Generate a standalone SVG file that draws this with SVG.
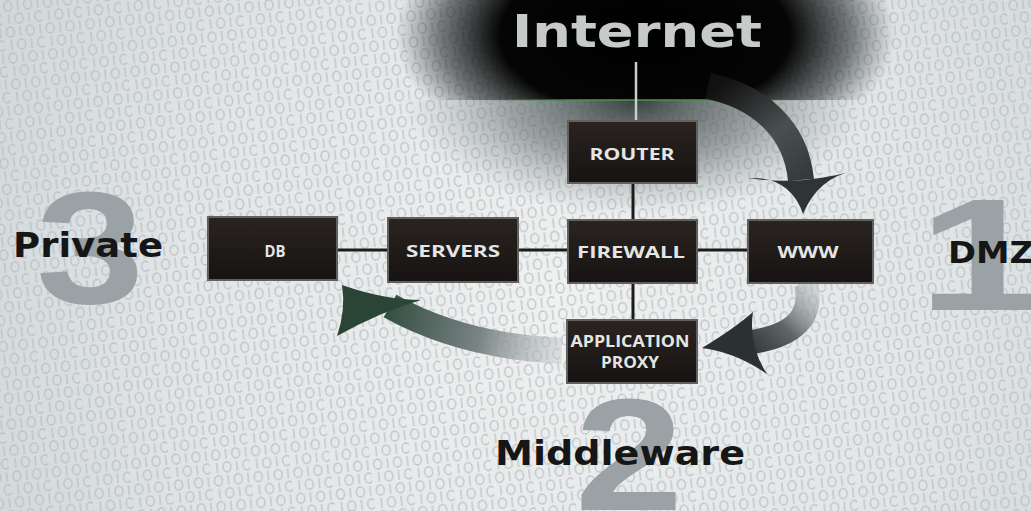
<svg xmlns="http://www.w3.org/2000/svg" width="1031" height="511" viewBox="0 0 1031 511">
  <defs>
    <radialGradient id="bg" cx="560" cy="300" r="620" gradientUnits="userSpaceOnUse">
      <stop offset="0" stop-color="#f0f1f1"/>
      <stop offset="0.6" stop-color="#e2e6e7"/>
      <stop offset="1" stop-color="#d2d7da"/>
    </radialGradient>
    <pattern id="bits" width="40" height="26" patternUnits="userSpaceOnUse" patternTransform="rotate(-6)">
      <g fill="none" stroke="#b4bbbf" stroke-width="1.4" opacity="0.8">
        <ellipse cx="7" cy="7" rx="4" ry="5"/>
        <line x1="17" y1="2" x2="17" y2="12"/>
        <ellipse cx="27" cy="7" rx="4" ry="5"/>
        <line x1="37" y1="2" x2="37" y2="12"/>
        <line x1="7" y1="15" x2="7" y2="25"/>
        <ellipse cx="17" cy="20" rx="4" ry="5"/>
        <line x1="27" y1="15" x2="27" y2="25"/>
        <ellipse cx="37" cy="20" rx="4" ry="5"/>
      </g>
    </pattern>
    <radialGradient id="glowTop" cx="645" cy="35" r="250" gradientUnits="userSpaceOnUse" gradientTransform="translate(645 35) scale(1 0.55) translate(-645 -35)">
      <stop offset="0" stop-color="#000" stop-opacity="1"/>
      <stop offset="0.58" stop-color="#050505" stop-opacity="1"/>
      <stop offset="0.82" stop-color="#1a1f20" stop-opacity="0.55"/>
      <stop offset="1" stop-color="#2a3030" stop-opacity="0"/>
    </radialGradient>
    <radialGradient id="glowLow" cx="635" cy="100" r="230" gradientUnits="userSpaceOnUse" gradientTransform="translate(635 100) scale(1 0.5) translate(-635 -100)">
      <stop offset="0" stop-color="#303838" stop-opacity="0.95"/>
      <stop offset="0.55" stop-color="#5e6869" stop-opacity="0.55"/>
      <stop offset="1" stop-color="#8a9496" stop-opacity="0"/>
    </radialGradient>
    <linearGradient id="greenLine" x1="470" y1="0" x2="820" y2="0" gradientUnits="userSpaceOnUse">
      <stop offset="0" stop-color="#4f7a4f" stop-opacity="0"/>
      <stop offset="0.3" stop-color="#4f8a4f" stop-opacity="0.8"/>
      <stop offset="0.7" stop-color="#4f8a4f" stop-opacity="0.8"/>
      <stop offset="1" stop-color="#4f7a4f" stop-opacity="0"/>
    </linearGradient>
    <clipPath id="topClip"><rect x="0" y="0" width="1031" height="100"/></clipPath>
    <clipPath id="lowClip"><rect x="0" y="100" width="1031" height="140"/></clipPath>
    <linearGradient id="a1" x1="715" y1="90" x2="805" y2="200" gradientUnits="userSpaceOnUse">
      <stop offset="0" stop-color="#111"/>
      <stop offset="0.5" stop-color="#4a5050"/>
      <stop offset="1" stop-color="#2e3333"/>
    </linearGradient>
    <linearGradient id="a2" x1="808" y1="282" x2="740" y2="350" gradientUnits="userSpaceOnUse">
      <stop offset="0" stop-color="#b6bebe" stop-opacity="0.5"/>
      <stop offset="0.5" stop-color="#5e6666"/>
      <stop offset="1" stop-color="#2b3030"/>
    </linearGradient>
    <linearGradient id="a3" x1="565" y1="350" x2="380" y2="305" gradientUnits="userSpaceOnUse">
      <stop offset="0" stop-color="#c2c9c9" stop-opacity="0.4"/>
      <stop offset="0.45" stop-color="#7a8484"/>
      <stop offset="1" stop-color="#2e4a3c"/>
    </linearGradient>
    <linearGradient id="boxFill" x1="0" y1="0" x2="0" y2="1">
      <stop offset="0" stop-color="#2a2421"/>
      <stop offset="1" stop-color="#161312"/>
    </linearGradient>
  </defs>
  <style>
    .box { fill: url(#boxFill); stroke: #625f5c; stroke-width: 2; }
    .btxt { font-family: "Open Sans", "DejaVu Sans", sans-serif; font-weight: 700; font-size: 16px; fill: #e4e6e4; text-anchor: middle; }
    .zone { font-family: "DejaVu Sans", "Liberation Sans", sans-serif; font-weight: 700; fill: #161616; }
    .digit { font-family: "Liberation Sans", Arial, sans-serif; font-weight: 700; font-size: 160px; fill: #9ba2a5; text-anchor: middle; }
    .link { stroke: #1e1c1b; stroke-width: 3; fill: none; }
  </style>

  <!-- background -->
  <rect width="1031" height="511" fill="url(#bg)"/>
  <rect width="1031" height="511" fill="url(#bits)"/>

  <!-- Internet glow -->
  <g id="internet-glow">
    <rect x="380" y="100" width="520" height="140" fill="url(#glowLow)" clip-path="url(#lowClip)"/>
    <rect x="360" y="0" width="570" height="100" fill="url(#glowTop)" clip-path="url(#topClip)"/>
    <line x1="470" y1="100" x2="820" y2="100" stroke="url(#greenLine)" stroke-width="2"/>
  </g>

  <!-- zone digits and labels -->
  <g id="zone-private">
    <text class="digit" transform="translate(90 303) scale(1.22 1)">3</text>
    <text class="zone" x="13" y="257" font-size="33" textLength="150" lengthAdjust="spacingAndGlyphs">Private</text>
  </g>
  <g id="zone-dmz">
    <text class="digit" transform="translate(982 310) scale(1.45 1)">1</text>
    <text class="zone" x="948" y="263" font-size="30" textLength="86" lengthAdjust="spacingAndGlyphs">DMZ</text>
  </g>
  <g id="zone-middleware">
    <text class="digit" transform="translate(629 510) scale(1.22 1)">2</text>
    <text class="zone" x="495" y="465" font-size="34" textLength="250" lengthAdjust="spacingAndGlyphs">Middleware</text>
  </g>

  <g id="internet">
    <text x="512" y="47" font-family="DejaVu Sans, Liberation Sans, sans-serif" font-weight="700" font-size="44" fill="#c6cbc7" textLength="250" lengthAdjust="spacingAndGlyphs">Internet</text>
  </g>

  <!-- connectors -->
  <g id="connectors">
    <line x1="636" y1="62" x2="636" y2="121" stroke="#c9cdcb" stroke-width="2.5"/>
    <line class="link" x1="633" y1="183" x2="633" y2="220"/>
    <line class="link" x1="633" y1="283" x2="633" y2="320"/>
    <line class="link" x1="337" y1="250" x2="388" y2="250"/>
    <line class="link" x1="518" y1="250" x2="568" y2="250"/>
    <line class="link" x1="697" y1="250" x2="748" y2="250"/>

    <!-- arrow Internet -> WWW -->
    <path d="M708 86 C758 96 796 128 801 180" stroke="url(#a1)" stroke-width="26" fill="none"/>
    <path d="M748 178 Q790 176 803 214 Q818 178 853 171 Q800 186 748 178 Z" fill="#2f3434"/>
    <!-- arrow WWW -> Application proxy -->
    <path d="M806 284 C814 318 792 336 752 342" stroke="url(#a2)" stroke-width="24" fill="none"/>
    <path d="M702 348 Q735 328 753 312 Q748 345 767 374 Q735 352 702 348 Z" fill="#2b3030"/>
    <!-- arrow Application proxy -> DB -->
    <path d="M562 351 C500 348 440 334 390 306" stroke="url(#a3)" stroke-width="26" fill="none"/>
    <path d="M342 285 Q385 300 421 300 Q380 312 337 336 Q346 310 342 285 Z" fill="#2a4536"/>
  </g>

  <!-- nodes -->
  <g id="router">
    <rect class="box" x="568" y="121" width="129" height="62"/>
    <text class="btxt" x="632" y="160" textLength="85" lengthAdjust="spacingAndGlyphs">ROUTER</text>
  </g>
  <g id="firewall">
    <rect class="box" x="568" y="220" width="129" height="63"/>
    <text class="btxt" x="631" y="258" textLength="108" lengthAdjust="spacingAndGlyphs">FIREWALL</text>
  </g>
  <g id="www">
    <rect class="box" x="748" y="220" width="125" height="63"/>
    <text class="btxt" x="808" y="258" textLength="61" lengthAdjust="spacingAndGlyphs">WWW</text>
  </g>
  <g id="application-proxy">
    <rect class="box" x="567" y="320" width="130" height="63"/>
    <text class="btxt" x="630" y="347" textLength="119" lengthAdjust="spacingAndGlyphs">APPLICATION</text>
    <text class="btxt" x="630" y="368" textLength="58" lengthAdjust="spacingAndGlyphs">PROXY</text>
  </g>
  <g id="servers">
    <rect class="box" x="388" y="218" width="130" height="64"/>
    <text class="btxt" x="453" y="257" textLength="94" lengthAdjust="spacingAndGlyphs">SERVERS</text>
  </g>
  <g id="db">
    <rect class="box" x="208" y="217" width="129" height="63"/>
    <text class="btxt" x="275" y="257" textLength="21" lengthAdjust="spacingAndGlyphs">DB</text>
  </g>
</svg>
